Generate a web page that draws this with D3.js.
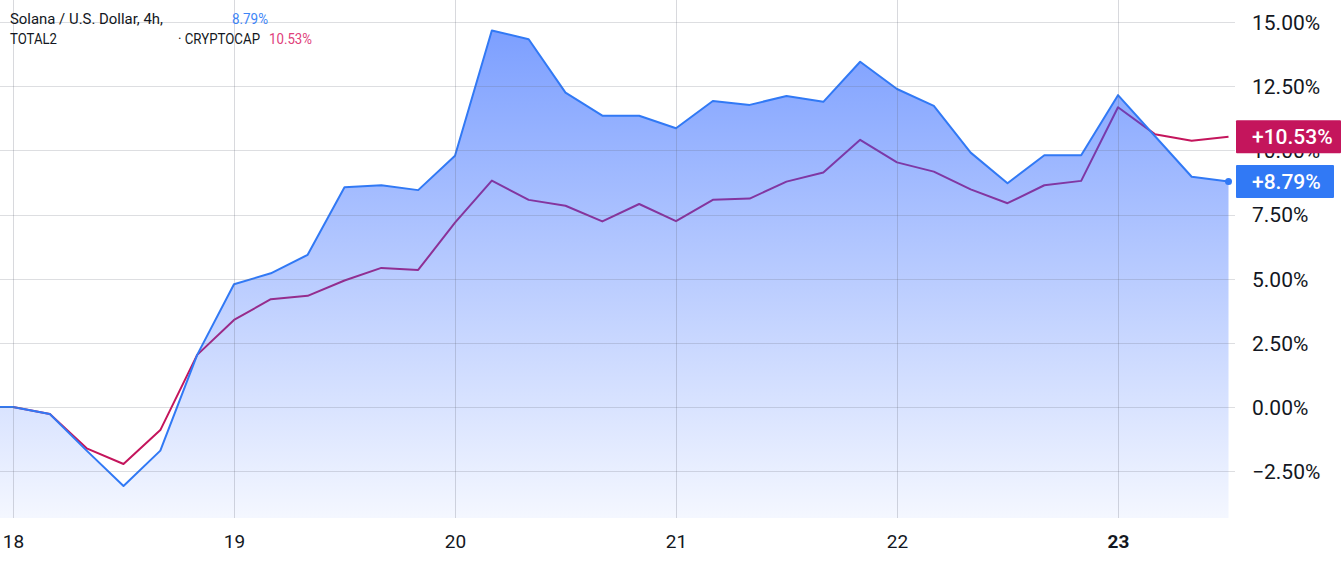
<!DOCTYPE html>
<html>
<head>
<meta charset="utf-8">
<script src="https://cdn.jsdelivr.net/npm/d3@7/dist/d3.min.js"></script>
<style>
  html, body { margin: 0; padding: 0; background: #ffffff; }
  svg { display: block; font-family: Roboto, "Noto Sans", sans-serif; }
</style>
</head>
<body>
<svg id="chart" width="1341" height="568"></svg>
<script>
// ---- data (4h steps, hours from 18th 00:00) ----
const hours = [-4, 0, 4, 8, 12, 16, 20, 24, 28, 32, 36, 40, 44, 48, 52, 56, 60, 64, 68, 72, 76, 80, 84, 88, 92, 96, 100, 104, 108, 112, 116, 120, 124, 128, 132];
const solana = [0, 0, -0.27, -1.7, -3.08, -1.7, 2.03, 4.78, 5.21, 5.93, 8.56, 8.64, 8.45, 9.79, 14.67, 14.33, 12.25, 11.35, 11.35, 10.86, 11.92, 11.77, 12.12, 11.89, 13.45, 12.39, 11.73, 9.91, 8.72, 9.81, 9.81, 12.15, 10.56, 8.97, 8.79];
const total2 = [0, 0, -0.27, -1.61, -2.22, -0.90, 2.03, 3.39, 4.20, 4.33, 4.93, 5.42, 5.34, 7.18, 8.82, 8.07, 7.84, 7.23, 7.91, 7.24, 8.07, 8.12, 8.78, 9.14, 10.41, 9.53, 9.17, 8.48, 7.94, 8.64, 8.81, 11.68, 10.63, 10.37, 10.53];
const dayTicks = [18, 19, 20, 21, 22, 23];
const yTicks = [15, 12.5, 10, 7.5, 5, 2.5, 0, -2.5];
const legend1 = { name: "Solana / U.S. Dollar, 4h,", value: "8.79%" };
const legend2 = { name: "TOTAL2", source: "· CRYPTOCAP", value: "10.53%" };
const lastSol = 8.79, lastTotal = 10.53;

// ---- layout ----
const svg = d3.select("#chart");
const gridRight = 1235, plotBottom = 518;
const blue = "#3179f5", red = "#c4155c";

const x = d3.scaleLinear().domain([18, 23]).range([13, 1118]);
const y = d3.scaleLinear().domain([0, 15]).range([407, 22]);
const xh = h => x(18 + h / 24);

const solData = hours.map((h, i) => ({ h, v: solana[i] }));
const totData = hours.map((h, i) => ({ h, v: total2[i] }));

const defs = svg.append("defs");
defs.append("clipPath").attr("id", "plotclip")
  .append("rect").attr("x", 0).attr("y", 0).attr("width", gridRight).attr("height", plotBottom);
const grad = defs.append("linearGradient").attr("id", "areaGrad")
  .attr("gradientUnits", "userSpaceOnUse")
  .attr("x1", 0).attr("x2", 0).attr("y1", y(15)).attr("y2", plotBottom);
grad.append("stop").attr("offset", 0).attr("stop-color", "#2962ff").attr("stop-opacity", 0.62);
grad.append("stop").attr("offset", 1).attr("stop-color", "#2962ff").attr("stop-opacity", 0.05);

const plot = svg.append("g").attr("clip-path", "url(#plotclip)");

// red line (beneath area)
const line = d3.line().x(d => xh(d.h)).y(d => y(d.v));
plot.append("path").datum(totData)
  .attr("d", line).attr("fill", "none")
  .attr("stroke", red).attr("stroke-width", 2).attr("stroke-linejoin", "round");

// area
const area = d3.area().x(d => xh(d.h)).y0(plotBottom).y1(d => y(d.v));
plot.append("path").datum(solData)
  .attr("d", area).attr("fill", "url(#areaGrad)");

// grid
const grid = svg.append("g");
grid.selectAll("line.h").data(yTicks).join("line")
  .attr("x1", 0).attr("x2", gridRight)
  .attr("y1", d => Math.round(y(d)) + 0.5).attr("y2", d => Math.round(y(d)) + 0.5)
  .attr("stroke", "rgba(100,104,120,0.22)").attr("stroke-width", 1);
grid.selectAll("line.v").data(dayTicks).join("line")
  .attr("y1", 0).attr("y2", plotBottom)
  .attr("x1", d => Math.round(x(d)) + 0.5).attr("x2", d => Math.round(x(d)) + 0.5)
  .attr("stroke", "rgba(100,104,120,0.25)").attr("stroke-width", 1);

// blue line
plot.append("path").datum(solData)
  .attr("d", line).attr("fill", "none")
  .attr("stroke", blue).attr("stroke-width", 2).attr("stroke-linejoin", "round");
svg.append("circle")
  .attr("cx", xh(hours[hours.length - 1])).attr("cy", y(lastSol))
  .attr("r", 3.5).attr("fill", blue);

// right axis
const yAxis = d3.axisRight(y).tickValues(yTicks)
  .tickSize(0).tickPadding(0)
  .tickFormat(d => (d < 0 ? "\u2212" + Math.abs(d).toFixed(2) : d.toFixed(2)) + "%");
const ya = svg.append("g").attr("transform", "translate(1252,0)").call(yAxis);
ya.select(".domain").remove();
ya.selectAll("text").attr("font-size", 21).attr("fill", "#131722")
  .attr("font-family", "Roboto, sans-serif").attr("dy", "0.35em");

// bottom axis
const xAxis = d3.axisBottom(x).tickValues(dayTicks).tickSize(0).tickPadding(0)
  .tickFormat(d3.format("d"));
const xa = svg.append("g").attr("transform", "translate(0,541)").call(xAxis);
xa.select(".domain").remove();
xa.selectAll("text").attr("font-size", 19).attr("fill", "#131722")
  .attr("font-family", "Roboto, sans-serif").attr("dy", "0.35em")
  .attr("font-weight", d => d === 23 ? 700 : 400);

// badges
function badge(val, color, w) {
  const cy = y(val);
  const g = svg.append("g");
  g.append("rect").attr("x", 1236).attr("y", cy - 16.5).attr("width", w).attr("height", 33)
    .attr("rx", 1).attr("fill", color);
  g.append("text").attr("x", 1252).attr("y", cy).attr("dy", "0.36em")
    .attr("font-size", 21).attr("font-weight", 500).attr("fill", "#ffffff")
    .text("+" + val.toFixed(2) + "%");
}
badge(lastTotal, red, 105);
badge(lastSol, blue, 98);

// legend
const lg = svg.append("g").attr("font-size", 14);
function ltext(xp, yp, txt, color, len) {
  lg.append("text").attr("x", xp).attr("y", yp).attr("dy", "0.35em").attr("fill", color)
    .attr("textLength", len).attr("lengthAdjust", "spacingAndGlyphs").text(txt);
}
ltext(10, 19, legend1.name, "#131722", 153);
ltext(232, 19, legend1.value, "#3d85f7", 36);
ltext(10, 39, legend2.name, "#131722", 47);
ltext(178, 39, legend2.source, "#131722", 82);
ltext(269, 39, legend2.value, "#e0407a", 43);
</script>
</body>
</html>
